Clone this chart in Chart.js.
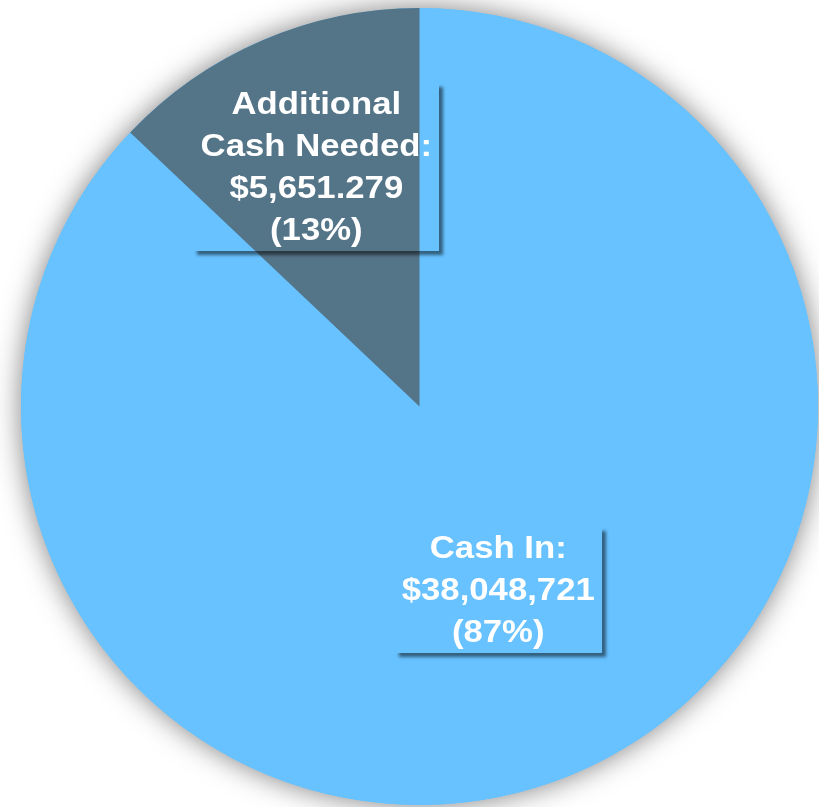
<!DOCTYPE html>
<html>
<head>
<meta charset="utf-8">
<title>Cash pie</title>
<script src="https://cdn.jsdelivr.net/npm/chart.js@4/dist/chart.umd.min.js"></script>
<style>
  html, body { margin: 0; padding: 0; background: #fff; }
  #wrap { width: 819px; height: 807px; }
</style>
</head>
<body>
<div id="wrap"><canvas id="pie" width="819" height="807"></canvas></div>
<script>
// chart data
const categories = ['Cash In', 'Additional Cash Needed'];
const values = [38048721, 5651279];
const nameLines = [['Cash In:'], ['Additional', 'Cash Needed:']];
const valueLabels = ['$38,048,721', '$5,651.279'];
const sliceColors = ['#67C2FF', '#547488'];

const total = values.reduce((a, b) => a + b, 0);

// soft glow behind the whole pie
const pieShadow = {
    id: 'pieShadow',
    beforeDatasetsDraw(chart) {
        const arc = chart.getDatasetMeta(0).data[0];
        const ctx = chart.ctx;
        ctx.save();
        ctx.shadowColor = 'rgba(0,0,0,0.5)';
        ctx.shadowBlur = 28;
        ctx.fillStyle = sliceColors[0];
        ctx.beginPath();
        ctx.arc(arc.x, arc.y, arc.outerRadius, 0, Math.PI * 2);
        ctx.fill();
        ctx.restore();
    }
};

// boxed labels with a drop shadow, transparent inside
const boxLabels = {
    id: 'boxLabels',
    afterDatasetsDraw(chart, args, opts) {
        const ctx = chart.ctx;
        const meta = chart.getDatasetMeta(0);
        const lineH = 42;
        const sx = 1.12; // the original glyphs are a bit wider
        ctx.save();
        ctx.font = 'bold 31px "Liberation Sans", Arial, sans-serif';
        ctx.textAlign = 'center';
        ctx.textBaseline = 'middle';
        meta.data.forEach((arc, i) => {
            const pct = Math.round(values[i] / total * 100);
            const lines = nameLines[i].concat([valueLabels[i], '(' + pct + '%)']);
            const mid = (arc.startAngle + arc.endAngle) / 2;
            const d = arc.outerRadius * opts.dist[i];
            const cx = arc.x + Math.cos(mid) * d;
            const cy = arc.y + Math.sin(mid) * d;
            const w = Math.round(Math.max(...lines.map(l => ctx.measureText(l).width)) * sx + 14);
            const h = lines.length * lineH;
            const bx = Math.round(cx - w / 2), by = Math.round(cy - h / 2);

            // shadow only outside the box
            ctx.save();
            ctx.beginPath();
            ctx.rect(0, 0, chart.width, chart.height);
            ctx.rect(bx, by, w, h);
            ctx.clip('evenodd');
            ctx.shadowColor = 'rgba(0,0,0,0.5)';
            ctx.shadowBlur = 3;
            ctx.shadowOffsetX = 4;
            ctx.shadowOffsetY = 4;
            ctx.fillStyle = '#000';
            ctx.fillRect(bx, by, w, h);
            ctx.restore();

            ctx.fillStyle = '#fff';
            lines.forEach((l, k) => {
                ctx.save();
                ctx.translate(cx, by + lineH / 2 + k * lineH + 1);
                ctx.scale(sx, 1);
                ctx.fillText(l, 0, 0);
                ctx.restore();
            });
        });
        ctx.restore();
    }
};

new Chart(document.getElementById('pie'), {
    type: 'pie',
    data: {
        labels: categories,
        datasets: [{
            data: values,
            backgroundColor: sliceColors,
            borderWidth: 0
        }]
    },
    options: {
        responsive: false,
        animation: false,
        layout: { padding: { left: 21, right: 1, top: 8, bottom: 2 } },
        plugins: {
            legend: { display: false },
            tooltip: { enabled: false },
            boxLabels: { dist: [0.5, 0.655] }
        }
    },
    plugins: [pieShadow, boxLabels]
});
</script>
</body>
</html>
